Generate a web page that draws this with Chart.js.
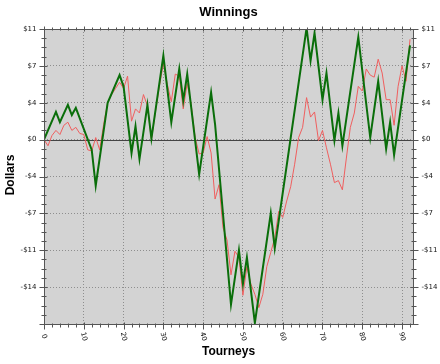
<!DOCTYPE html>
<html>
<head>
<meta charset="utf-8">
<script src="https://cdn.jsdelivr.net/npm/chart.js@4"></script>
<style>
  body { margin: 0; background: #ffffff; }
  canvas { display: block; }
</style>
</head>
<body>
<canvas id="chart1" width="440" height="364"></canvas>
<script>
// green series: only the turning points are visible, so keep x with each value
const greenX = [0, 3, 4, 6, 7, 8, 12, 13, 16, 19, 20, 22, 23, 24, 26, 27, 30, 32, 34, 35, 36, 39, 42, 43,
    47, 49, 50, 51, 53, 57, 58, 66, 67, 68, 70, 71, 73, 74, 75, 79, 82, 84, 86, 87, 88, 92];
const greenY = [0, 2.7, 1.7, 3.4, 2.4, 3.1, -1.0, -4.5, 3.6, 6.3, 5.2, -1.3, 1.3, -1.9, 3.4, 0.1, 8.2, 1.7, 6.9, 3.8, 6.4, -3.4, 4.6, 1.5,
    -16.1, -10.8, -14.1, -11.5, -17.9, -7.2, -10.6, 10.9, 7.7, 10.4, 3.9, 6.5, -0.1, 2.6, -0.6, 10.0, 0.2, 5.7, -0.9, 1.7, -1.5, 9.2];

// red series: one value per tourney, 0..92
const redY = [0, -0.6, 0.4, 0.9, 0.5, 1.4, 1.7, 0.9, 1.2, 0.6, 0.5, -1.0, -1.1, 0.2, -1.0, 1.5, 3.6, 4.4, 5.0, 5.6, 5.0,
    6.2, 1.8, 3.0, 2.6, 4.4, 3.3, 0.0, 2.7, 5.2, 7.4, 5.4, 3.7, 6.4, 6.2, 3.0, 5.5, 3.4, 0.2, -1.4, -1.3,
    0.3, -1.3, -5.8, -4.4, -8.6, -9.8, -13.2, -10.9, -11.5, -15.2, -12.4, -14.1, -15.1, -16.4, -15.1, -12.4, -11.0, -9.6, -7.0, -7.6,
    -6.0, -4.6, -2.4, 0.2, 1.2, 4.1, 2.2, 2.7, -0.1, 0.9, -0.8, -2.4, -4.2, -4.0, -4.9, -1.8, 1.2, 2.6, 5.2, 4.75,
    6.9, 6.3, 6.1, 7.85, 6.5, 3.9, 3.9, 1.4, 5.2, 7.2, 5.7, 9.8];

const xTicks = [0, 10, 20, 30, 40, 50, 60, 70, 80, 90];
const yTicks = [10.8, 7.2, 3.6, 0, -3.6, -7.2, -10.8, -14.4];

const greenData = greenX.map((x, i) => ({ x: x, y: greenY[i] }));
const redData = redY.map((y, i) => ({ x: i, y: y }));

function money(v) {
    const n = Math.round(Math.abs(v));
    return (v < 0 ? '-$' : '$') + n;
}

// plot background, frame, tick marks and all the texts
const decorate = {
    id: 'decorate',
    beforeDraw(chart) {
        const a = chart.chartArea;
        const c = chart.ctx;
        c.save();
        c.fillStyle = '#d3d3d3';
        c.fillRect(a.left, a.top, a.right - a.left, a.bottom - a.top);
        c.restore();
    },
    beforeDatasetsDraw(chart) {
        const a = chart.chartArea;
        const c = chart.ctx;
        const y0 = Math.round(chart.scales.y.getPixelForValue(0)) + 0.5;
        c.save();
        c.strokeStyle = '#444444';
        c.lineWidth = 1;
        c.beginPath();
        c.moveTo(a.left, y0);
        c.lineTo(a.right, y0);
        c.stroke();
        c.restore();
    },
    afterDraw(chart) {
        const a = chart.chartArea;
        const c = chart.ctx;
        const xs = chart.scales.x;
        const ys = chart.scales.y;
        const L = Math.round(a.left) + 0.5, R = Math.round(a.right) + 0.5;
        const T = Math.round(a.top) + 0.5, B = Math.round(a.bottom) + 0.5;
        c.save();
        c.strokeStyle = '#555555';
        c.lineWidth = 1;
        c.strokeRect(L, T, R - L, B - T);

        // x ticks every 2, major every 10
        c.beginPath();
        for (let v = 0; v <= 92; v += 2) {
            const px = Math.round(xs.getPixelForValue(v)) + 0.5;
            const big = v % 10 === 0;
            c.moveTo(px, B - (big ? 2 : 1));
            c.lineTo(px, B + (big ? 5 : 3));
            c.moveTo(px, T - (big ? 3 : 2));
            c.lineTo(px, T + (big ? 2 : 1));
        }
        // y ticks every 0.9, major every 3.6
        for (let k = -20; k <= 12; k++) {
            const v = k * 0.9;
            if (v < -18.01 || v > 10.81) continue;
            const py = Math.round(ys.getPixelForValue(v)) + 0.5;
            const big = k % 4 === 0;
            c.moveTo(L - (big ? 5 : 3), py);
            c.lineTo(L + (big ? 3 : 2), py);
            c.moveTo(R - (big ? 3 : 2), py);
            c.lineTo(R + (big ? 5 : 3), py);
        }
        c.stroke();

        c.fillStyle = '#111111';
        c.font = '7px "DejaVu Sans"';
        c.textBaseline = 'middle';
        yTicks.forEach(v => {
            const py = ys.getPixelForValue(v);
            c.textAlign = 'right';
            c.fillText(money(v), L - 8, py);
            c.textAlign = 'left';
            c.fillText(money(v), R + 8, py);
        });

        c.textAlign = 'center';
        xTicks.forEach(v => {
            const px = xs.getPixelForValue(v);
            c.save();
            c.translate(px, B + 12);
            c.rotate(75 * Math.PI / 180);
            c.fillText(String(v), 0, 0);
            c.restore();
        });

        c.fillStyle = '#000000';
        c.font = 'bold 13px "Liberation Sans"';
        c.fillText('Winnings', (a.left + a.right) / 2, 12);
        c.font = 'bold 12px "Liberation Sans"';
        c.fillText('Tourneys', (a.left + a.right) / 2, 352);
        c.save();
        c.translate(11, 175);
        c.rotate(-Math.PI / 2);
        c.fillText('Dollars', 0, 0);
        c.restore();
        c.restore();
    }
};

const ctx1 = document.getElementById('chart1');
const myChart = new Chart(ctx1, {
    type: 'line',
    data: {
        datasets: [{
            data: greenData,
            borderColor: 'rgb(10,110,10)',
            borderWidth: 2,
            pointRadius: 0,
            tension: 0
        }, {
            data: redData,
            borderColor: 'rgb(240,95,95)',
            borderWidth: 1,
            pointRadius: 0,
            tension: 0
        }]
    },
    options: {
        responsive: false,
        animation: false,
        devicePixelRatio: 1,
        layout: {
            padding: { left: 44, top: 29, right: 27, bottom: 40 }
        },
        scales: {
            x: {
                type: 'linear',
                min: 0,
                max: 92.75,
                ticks: { display: false, stepSize: 10, includeBounds: false },
                grid: { color: '#8e8e8e', drawTicks: false },
                border: { display: false, dash: [1, 2] }
            },
            y: {
                min: -18,
                max: 10.8,
                ticks: { display: false, stepSize: 3.6, includeBounds: false },
                grid: { color: '#8e8e8e', drawTicks: false },
                border: { display: false, dash: [1, 2] }
            }
        },
        plugins: {
            legend: { display: false },
            tooltip: { enabled: false }
        }
    },
    plugins: [decorate]
});
</script>
</body>
</html>
